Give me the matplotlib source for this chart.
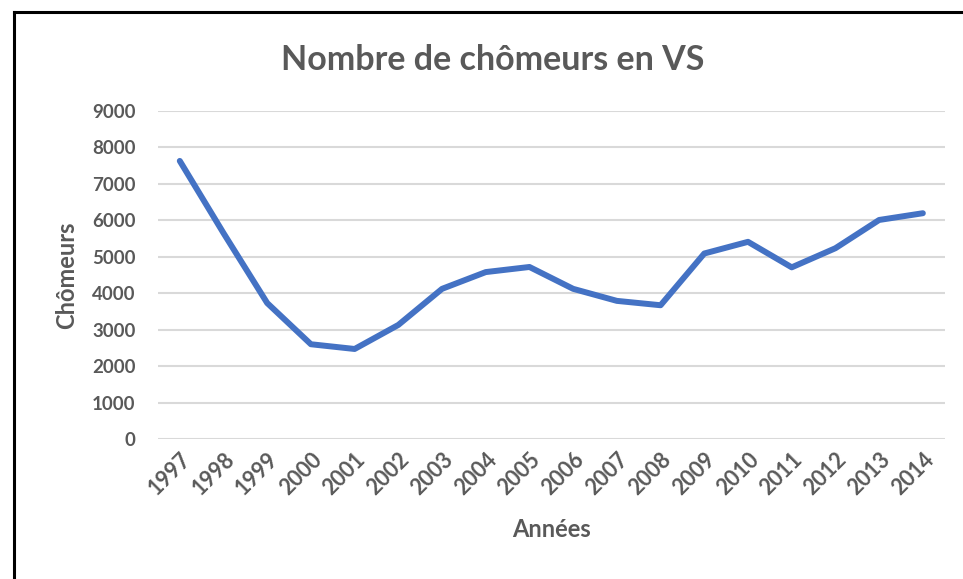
import matplotlib.pyplot as plt
from matplotlib.lines import Line2D

years = [str(y) for y in range(1997, 2015)]
chomeurs = [7630, 5650, 3730, 2600, 2470, 3130, 4120, 4580, 4720,
            4120, 3790, 3670, 5090, 5410, 4710, 5235, 6010, 6195]
yticks = [0, 1000, 2000, 3000, 4000, 5000, 6000, 7000, 8000, 9000]

grey = "#595959"
plt.rcParams['font.family'] = ['Lato', 'DejaVu Sans']

fig = plt.figure(figsize=(9.63, 5.79), dpi=100)
ax = fig.add_axes([0.164, 0.2418, 0.817, 0.5665])

x = range(len(years))
ax.plot(x, chomeurs, color="#4472C4", lw=4.3, solid_capstyle="round",
        solid_joinstyle="round", zorder=3)

ax.set_xlim(-0.5, len(years) - 0.5)
ax.set_ylim(0, 9000)
ax.set_yticks(yticks)
ax.set_yticklabels([str(v) for v in yticks])
ax.set_xticks(list(x))
ax.set_xticklabels(years, rotation=45, ha="right", rotation_mode="anchor")
ax.grid(axis="y", color="#D9D9D9", lw=1.5)
ax.set_axisbelow(True)
for s in ax.spines.values():
    s.set_visible(False)
ax.tick_params(length=0, colors=grey)
ax.tick_params(axis="y", pad=16, labelsize=13.5)
ax.tick_params(axis="x", pad=7, labelsize=15.5)
for t in ax.get_xticklabels() + ax.get_yticklabels():
    t.set_fontweight("bold")

ax.set_ylabel("Chômeurs", color=grey, fontsize=17, fontweight="bold", labelpad=10)
ax.set_xlabel("Années", color=grey, fontsize=17, fontweight="bold", labelpad=14)
fig.text(0.512, 0.897, "Nombre de chômeurs en VS", ha="center", va="center",
         color=grey, fontsize=24.5, fontweight="bold")

# black frame on left and top edges
W, H = 963, 579
fig.add_artist(Line2D([14 / W, 14 / W], [0, 1 - 12 / H], color="black", lw=2.2,
                      transform=fig.transFigure))
fig.add_artist(Line2D([14 / W, 1], [1 - 12 / H, 1 - 12 / H], color="black", lw=2.2,
                      transform=fig.transFigure))

fig.savefig("out.png", dpi=100)
